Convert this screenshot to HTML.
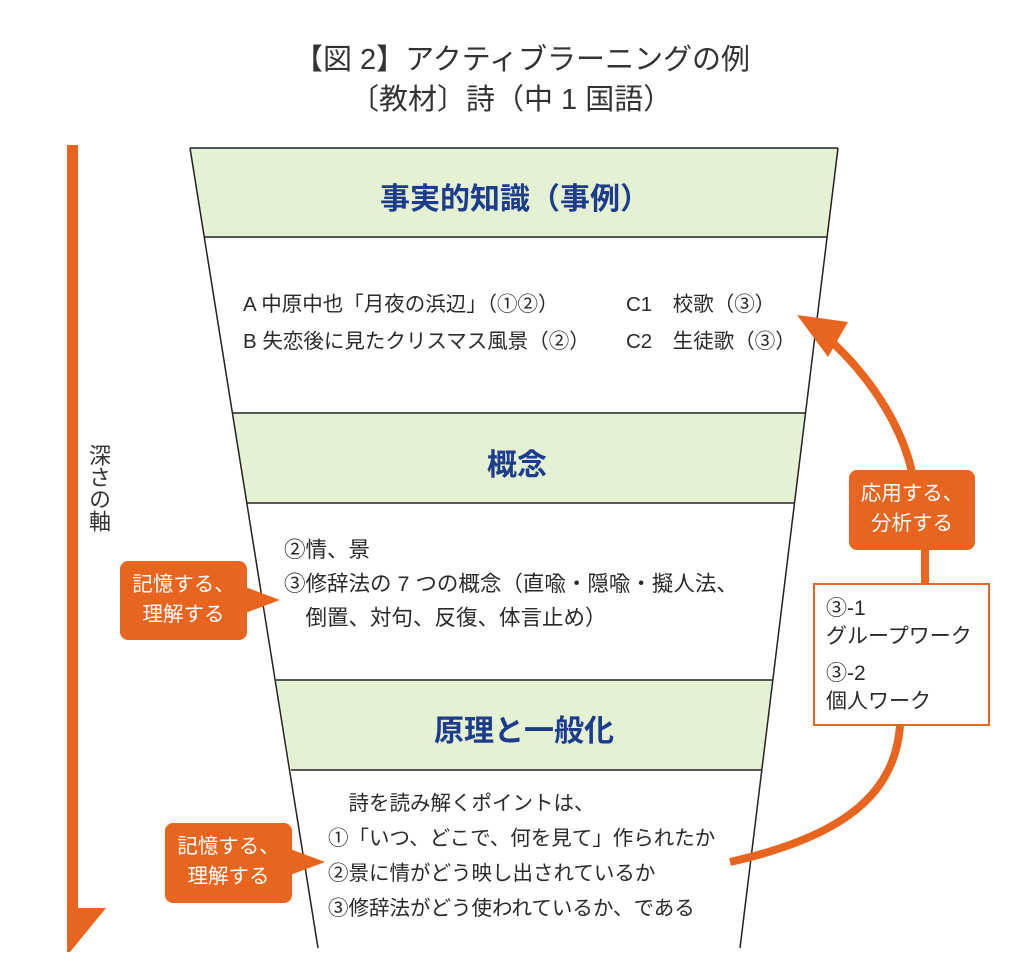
<!DOCTYPE html>
<html><head><meta charset="utf-8"><style>
body{margin:0;background:#fff;width:1024px;height:976px;overflow:hidden;position:relative;font-family:"Liberation Sans","Noto Sans CJK JP",sans-serif;color:#2a2a2a}
.t{position:absolute;white-space:nowrap}
.h{font-weight:bold;color:#1e3c8c;font-size:30px;width:400px;text-align:center}
.b{font-size:20.5px}
.c{position:absolute;background:#e8651f;color:#fff;border-radius:8px;font-size:20.5px;line-height:30px;text-align:center;box-sizing:border-box;padding-top:9px}
</style></head><body>
<svg width="1024" height="976" style="position:absolute;left:0;top:0">
<polygon points="190,148 838,148 827,237 204,237" fill="#e5f1d3"/>
<polygon points="232,413 806,413 795,503 247,503" fill="#e5f1d3"/>
<polygon points="276,680 772,680 761,770 291,770" fill="#e5f1d3"/>
<g stroke="#222" stroke-width="1.5" fill="none">
<line x1="190" y1="148" x2="318" y2="948"/>
<line x1="838" y1="148" x2="740" y2="948"/>
<line x1="190" y1="148" x2="838" y2="148"/>
<line x1="204" y1="237" x2="827" y2="237"/>
<line x1="232" y1="413" x2="806" y2="413"/>
<line x1="247" y1="503" x2="795" y2="503"/>
<line x1="276" y1="680" x2="772" y2="680"/>
<line x1="291" y1="770" x2="761" y2="770"/>
</g>
<polygon points="67,145 78,145 78,908 106,908 70,952 67,952" fill="#e8651f"/>
<path d="M730 862 C 850 835, 895 790, 900 726" stroke="#e8651f" stroke-width="8" fill="none"/>
<path d="M925 583 L 925 545 M912 472 C 900 420, 865 370, 822 333" stroke="#e8651f" stroke-width="8" fill="none"/>
<polygon points="797,315 848,322 828,357" fill="#e8651f"/>
<polygon points="240,585 280,600 240,615" fill="#e8651f"/>
<polygon points="285,847 325,862 285,877" fill="#e8651f"/>
</svg>
<div class="t" style="left:294px;top:36px;font-size:29px;color:#333">【図 2】アクティブラーニングの例</div>
<div class="t" style="left:350px;top:76px;font-size:29px;color:#333">〔教材〕詩（中 1 国語）</div>
<div class="t h" style="left:315px;top:174px">事実的知識（事例）</div>
<div class="t h" style="left:317px;top:440px">概念</div>
<div class="t h" style="left:324px;top:706px">原理と一般化</div>
<div class="t b" style="left:243px;top:286px;line-height:37px">A 中原中也「月夜の浜辺」（①②）<br>B 失恋後に見たクリスマス風景（②）</div>
<div class="t b" style="left:626px;top:286px;line-height:37px">C1　校歌（③）<br>C2　生徒歌（③）</div>
<div class="t b" style="left:284px;top:533px;line-height:34px;font-size:21.5px">②情、景<br>③修辞法の 7 つの概念（直喩・隠喩・擬人法、<br>　倒置、対句、反復、体言止め）</div>
<div class="t b" style="left:328px;top:786px;line-height:35px">　詩を読み解くポイントは、<br>①「いつ、どこで、何を見て」作られたか<br>②景に情がどう映し出されているか<br>③修辞法がどう使われているか、である</div>
<div class="t" style="left:82px;top:444px;font-size:22px;writing-mode:vertical-rl;color:#333">深さの軸</div>
<div class="c" style="left:120px;top:561px;width:127px;height:79px">記憶する、<br>理解する</div>
<div class="c" style="left:165px;top:823px;width:127px;height:80px">記憶する、<br>理解する</div>
<div class="c" style="left:849px;top:470px;width:126px;height:80px">応用する、<br>分析する</div>
<div style="position:absolute;left:813px;top:583px;width:177px;height:143px;border:2.5px solid #e8651f;background:#fff;box-sizing:border-box"></div>
<div class="t" style="left:826px;top:595px;font-size:21px;line-height:28px">③-1<br>グループワーク</div>
<div class="t" style="left:826px;top:660px;font-size:21px;line-height:28px">③-2<br>個人ワーク</div>
</body></html>
